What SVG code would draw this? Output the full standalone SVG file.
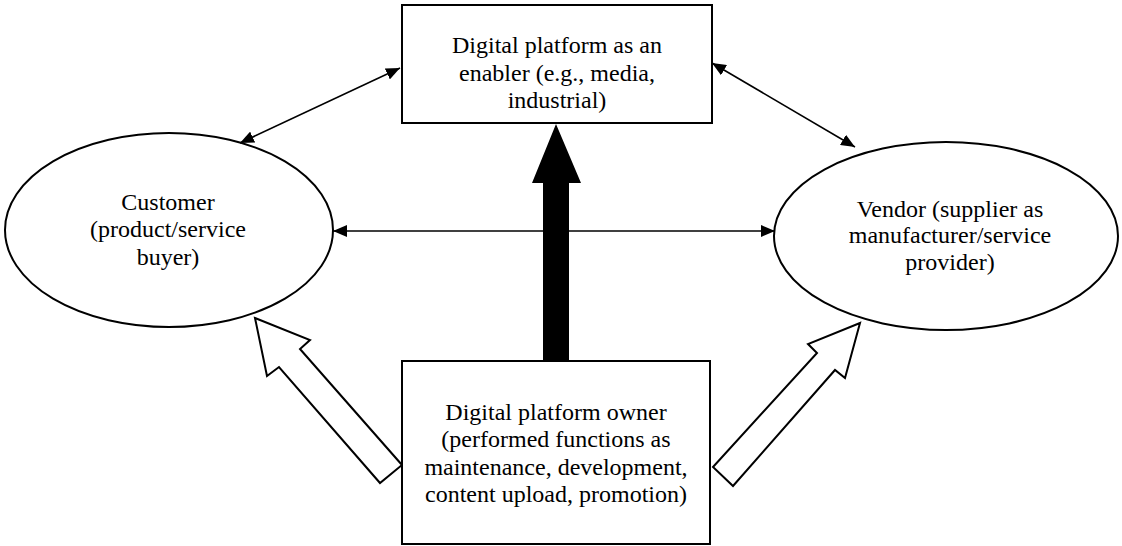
<svg xmlns="http://www.w3.org/2000/svg" width="1122" height="546" viewBox="0 0 1122 546">
<style>
.box{fill:#fff;stroke:#000;stroke-width:2}
.ell{fill:#fff;stroke:#000;stroke-width:2}
.t{font-family:"Liberation Serif","Times New Roman",serif;font-size:24px;fill:#000;text-anchor:middle}
.thin{stroke:#000;stroke-width:1.6;fill:none;marker-start:url(#ah);marker-end:url(#ah)}
.hollow{fill:#fff;stroke:#000;stroke-width:2;stroke-linejoin:miter}
</style>
<defs>
<marker id="ah" markerUnits="userSpaceOnUse" markerWidth="14" markerHeight="12" refX="14" refY="6" orient="auto-start-reverse">
<path d="M0,0 L14,6 L0,12 z" fill="#000"/>
</marker>
</defs>
<rect width="1122" height="546" fill="#fff"/>
<g id="customer">
<ellipse class="ell" cx="169" cy="230" rx="164" ry="97"/>
<text class="t" x="168" y="210">Customer</text>
<text class="t" x="168" y="237">(product/service</text>
<text class="t" x="168" y="265">buyer)</text>
</g>
<g id="vendor">
<ellipse class="ell" cx="946" cy="236" rx="172" ry="94"/>
<text class="t" x="950" y="217">Vendor (supplier as</text>
<text class="t" x="950" y="243">manufacturer/service</text>
<text class="t" x="950" y="270">provider)</text>
</g>
<g id="platform">
<rect class="box" x="402" y="5" width="310" height="118"/>
<text class="t" x="557" y="53">Digital platform as an</text>
<text class="t" x="557" y="81">enabler (e.g., media,</text>
<text class="t" x="557" y="108">industrial)</text>
</g>
<g id="connectors">
<line class="thin" x1="240" y1="143" x2="400" y2="68"/>
<line class="thin" x1="712" y1="63" x2="855" y2="147"/>
<line class="thin" x1="333" y1="231" x2="775" y2="231"/>
<polygon fill="#000" points="556,124 581,183 569,183 569,362 543,362 543,183 532,183"/>
<polygon class="hollow" points="255,318 310,340 300,349 402,465 380,483 279,367 267,376"/>
<polygon class="hollow" points="860,323 845,378 835,370 733,486 713,467 817,353 808,344"/>
</g>
<g id="owner">
<rect class="box" x="402" y="361" width="308" height="183"/>
<text class="t" x="556" y="420">Digital platform owner</text>
<text class="t" x="556" y="447">(performed functions as</text>
<text class="t" x="556" y="475">maintenance, development,</text>
<text class="t" x="556" y="502">content upload, promotion)</text>
</g>
</svg>
